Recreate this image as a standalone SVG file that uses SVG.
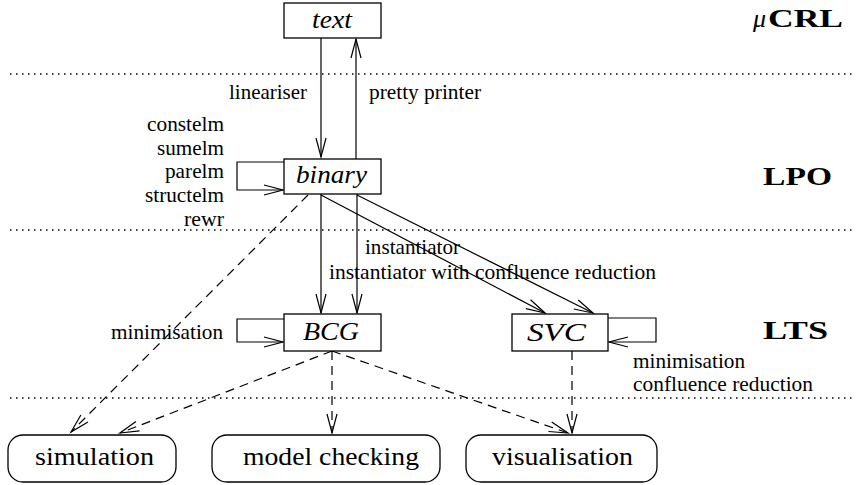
<svg xmlns="http://www.w3.org/2000/svg" width="856" height="485" viewBox="0 0 856 485">
<style>
.box{fill:#fff;stroke:#000;stroke-width:1.3}
.ln{fill:none;stroke:#000;stroke-width:1.2}
.dash{fill:none;stroke:#000;stroke-width:1.2;stroke-dasharray:9 6}
.dot{stroke:#000;stroke-width:1.3;stroke-dasharray:1.5 4.5}
text{font-family:"Liberation Serif",Tinos,"Times New Roman",Times,"DejaVu Serif","Noto Serif",FreeSerif,serif;fill:#000}
.lab{font-size:21px}
.nm{font-size:26px;font-style:italic}
.rm{font-size:26px}
.hd{font-size:26px;font-weight:bold}
</style>
<defs>
<marker id="ah" markerUnits="userSpaceOnUse" orient="auto" refX="0" refY="0" markerWidth="24" markerHeight="14" overflow="visible">
<path d="M-19,-5 L0,0 L-19,5" fill="none" stroke="#000" stroke-width="1.2"/>
</marker>
</defs>
<g id="layers">
<line class="dot" x1="10" y1="74" x2="856" y2="74"/>
<line class="dot" x1="10" y1="230" x2="856" y2="230"/>
<line class="dot" x1="10" y1="398" x2="856" y2="398"/>
<text class="hd" x="753" y="27"><tspan font-style="italic" font-weight="normal">μ</tspan><tspan x="768" textLength="75" lengthAdjust="spacingAndGlyphs">CRL</tspan></text>
<text class="hd" x="763" y="185" textLength="69" lengthAdjust="spacingAndGlyphs">LPO</text>
<text class="hd" x="763" y="339" textLength="65" lengthAdjust="spacingAndGlyphs">LTS</text>
</g>
<g id="connectors">
<line class="ln" x1="321" y1="38" x2="321" y2="157" marker-end="url(#ah)"/>
<line class="ln" x1="356" y1="159" x2="356" y2="39" marker-end="url(#ah)"/>
<path class="ln" d="M284,162 H237 V190 H283" marker-end="url(#ah)"/>
<line class="ln" x1="321" y1="194" x2="321" y2="313" marker-end="url(#ah)"/>
<line class="ln" x1="357" y1="194" x2="357" y2="313" marker-end="url(#ah)"/>
<line class="ln" x1="321" y1="195" x2="545" y2="313" marker-end="url(#ah)"/>
<line class="ln" x1="357" y1="195" x2="593" y2="313" marker-end="url(#ah)"/>
<path class="ln" d="M284,319 H237 V342 H283" marker-end="url(#ah)"/>
<path class="ln" d="M608,318 H656 V342 H609" marker-end="url(#ah)"/>
<line class="dash" x1="308" y1="195" x2="71" y2="432" marker-end="url(#ah)"/>
<line class="dash" x1="332" y1="351" x2="120" y2="433" marker-end="url(#ah)"/>
<line class="dash" x1="332" y1="351" x2="332" y2="433" marker-end="url(#ah)"/>
<line class="dash" x1="332" y1="351" x2="568" y2="433" marker-end="url(#ah)"/>
<line class="dash" x1="572" y1="351" x2="572" y2="433" marker-end="url(#ah)"/>
<text class="lab" x="229" y="99" textLength="78" lengthAdjust="spacingAndGlyphs">lineariser</text>
<text class="lab" x="369" y="99" textLength="112" lengthAdjust="spacingAndGlyphs">pretty printer</text>
<text class="lab" x="147" y="131" textLength="77" lengthAdjust="spacingAndGlyphs">constelm</text>
<text class="lab" x="157" y="155" textLength="67" lengthAdjust="spacingAndGlyphs">sumelm</text>
<text class="lab" x="165" y="178" textLength="59" lengthAdjust="spacingAndGlyphs">parelm</text>
<text class="lab" x="145" y="202" textLength="79" lengthAdjust="spacingAndGlyphs">structelm</text>
<text class="lab" x="184" y="226" textLength="40" lengthAdjust="spacingAndGlyphs">rewr</text>
<text class="lab" x="365" y="254" textLength="95" lengthAdjust="spacingAndGlyphs">instantiator</text>
<text class="lab" x="329" y="279" textLength="327" lengthAdjust="spacingAndGlyphs">instantiator with confluence reduction</text>
<text class="lab" x="111" y="339" textLength="112" lengthAdjust="spacingAndGlyphs">minimisation</text>
<text class="lab" x="633" y="368" textLength="112" lengthAdjust="spacingAndGlyphs">minimisation</text>
<text class="lab" x="633" y="391" textLength="180" lengthAdjust="spacingAndGlyphs">confluence reduction</text>
</g>
<g id="text">
<rect class="box" x="284" y="3" width="97" height="35"/>
<text class="nm" x="312" y="28" textLength="40" lengthAdjust="spacingAndGlyphs">text</text>
</g>
<g id="binary">
<rect class="box" x="284" y="159" width="97" height="35"/>
<text class="nm" x="296" y="183" textLength="71" lengthAdjust="spacingAndGlyphs">binary</text>
</g>
<g id="BCG">
<rect class="box" x="284" y="314" width="97" height="37"/>
<text class="nm" x="303" y="340" textLength="56" lengthAdjust="spacingAndGlyphs">BCG</text>
</g>
<g id="SVC">
<rect class="box" x="512" y="314" width="96" height="37"/>
<text class="nm" x="527" y="341" textLength="59" lengthAdjust="spacingAndGlyphs">SVC</text>
</g>
<g id="simulation">
<rect class="box" x="8" y="435" width="168" height="47" rx="15"/>
<text class="rm" x="35" y="465" textLength="119" lengthAdjust="spacingAndGlyphs">simulation</text>
</g>
<g id="model-checking">
<rect class="box" x="212" y="435" width="228" height="47" rx="15"/>
<text class="rm" x="243" y="465" textLength="176" lengthAdjust="spacingAndGlyphs">model checking</text>
</g>
<g id="visualisation">
<rect class="box" x="466" y="435" width="191" height="47" rx="15"/>
<text class="rm" x="492" y="465" textLength="141" lengthAdjust="spacingAndGlyphs">visualisation</text>
</g>
</svg>
